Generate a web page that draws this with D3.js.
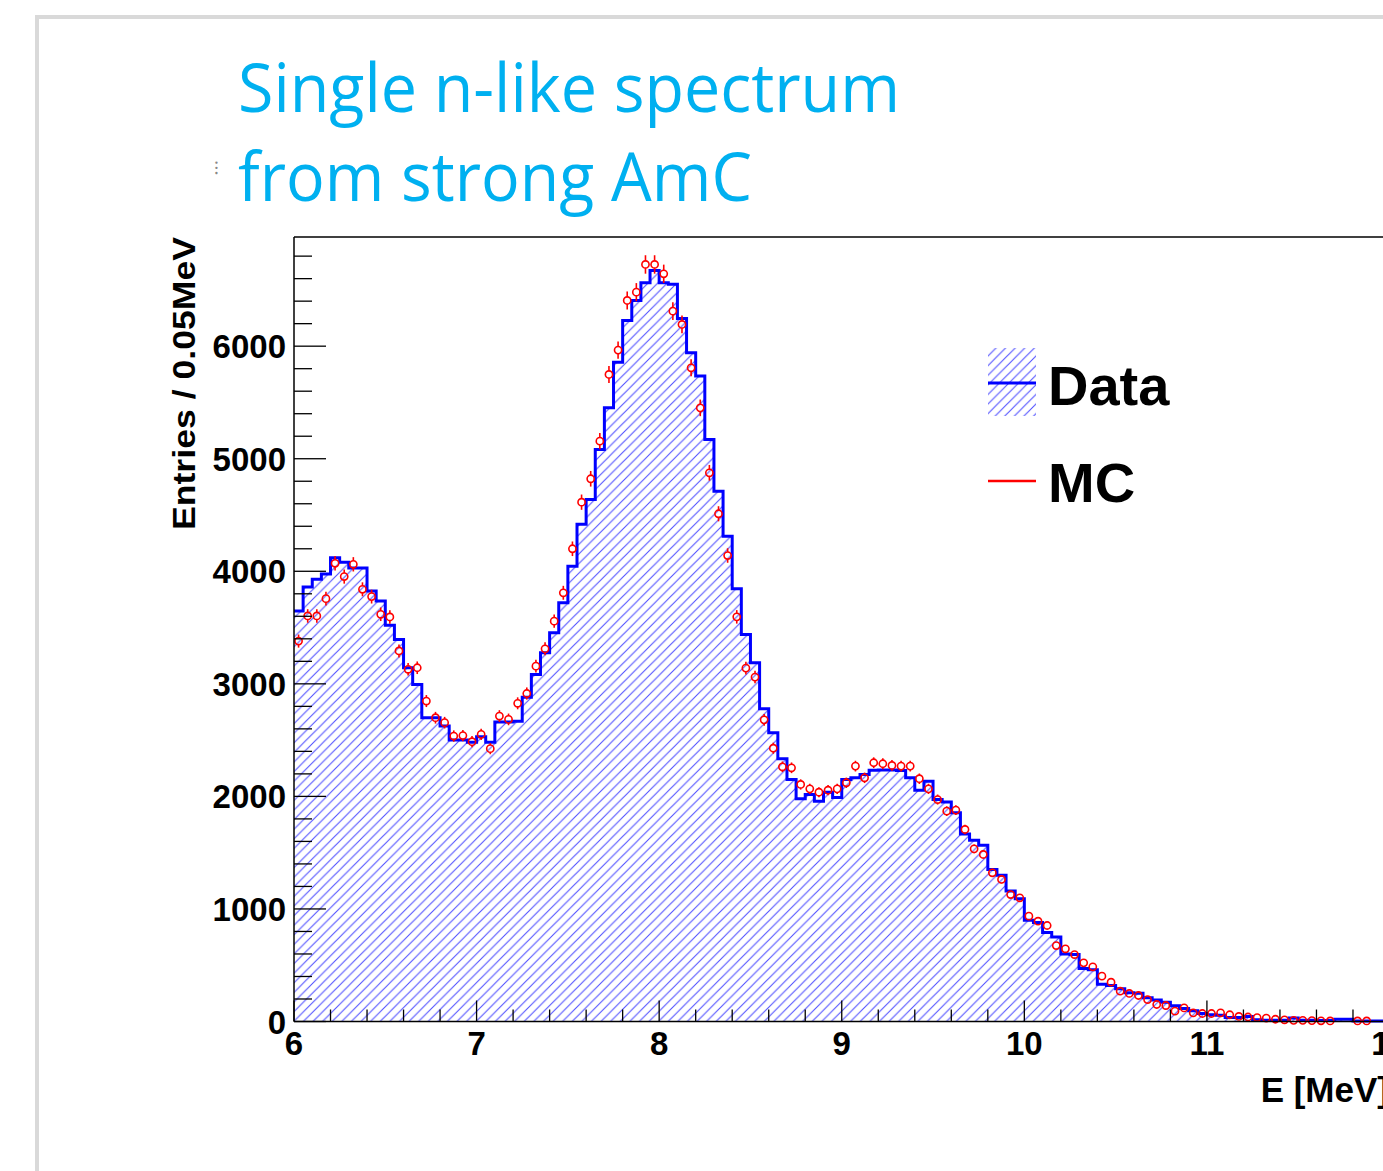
<!DOCTYPE html>
<html>
<head>
<meta charset="utf-8">
<script src="https://cdn.jsdelivr.net/npm/d3@7"></script>
<style>
  html, body { margin: 0; padding: 0; background: #fff; overflow: hidden; }
  svg { display: block; }
</style>
</head>
<body>
<svg id="chart" width="1383" height="1171"></svg>
<script>
// ---------------- data ----------------
const titleLines = ["Single n-like spectrum", "from strong AmC"];
const xTitle = "E [MeV]";
const yTitle = "Entries / 0.05MeV";
const legendLabels = ["Data", "MC"];
const binStart = 6.0;
const binWidth = 0.05;
const xTickValues = [6, 7, 8, 9, 10, 11, 12];
const yTickValues = [0, 1000, 2000, 3000, 4000, 5000, 6000];

// Data histogram (entries per 0.05 MeV bin, from 6.00 MeV)
const dataCounts = [
  3647, 3860, 3930, 3975, 4120, 4080, 4030, 4030, 3825, 3736,
  3520, 3395, 3143, 2995, 2699, 2699, 2625, 2500, 2500, 2480,
  2530, 2480, 2660, 2660, 2668, 2880, 3083, 3276, 3453, 3720,
  4045, 4417, 4638, 5082, 5452, 5858, 6228, 6406, 6563, 6673,
  6563, 6550, 6246, 5941, 5734, 5171, 4712, 4312, 3844, 3438,
  3187, 2778, 2565, 2334, 2150, 1979, 2017, 1957, 2037, 1990,
  2150, 2165, 2195, 2233, 2235, 2235, 2230, 2165, 2055, 2135,
  1972, 1950, 1854, 1665, 1611, 1565, 1350, 1300, 1160, 1090,
  900, 880, 790, 750, 600, 595, 470, 460, 330, 320,
  290, 255, 250, 210, 190, 170, 140, 115, 95, 70,
  60, 55, 35, 35, 45, 15, 12, 12, 12, 30,
  10, 10, 8, 8, 20, 20, 5, 5, 5, 5
];

// MC points (same binning)
const mcCounts = [
  3380, 3603, 3603, 3757, 4071, 3953, 4062, 3840, 3775, 3618,
  3594, 3292, 3129, 3143, 2847, 2699, 2655, 2536, 2540, 2486,
  2551, 2424, 2714, 2684, 2827, 2914, 3157, 3311, 3557, 3809,
  4200, 4614, 4822, 5156, 5749, 5965, 6406, 6480, 6726, 6726,
  6643, 6311, 6193, 5808, 5452, 4875, 4511, 4140, 3595, 3140,
  3060, 2680, 2428, 2263, 2254, 2106, 2067, 2037, 2055, 2067,
  2121, 2269, 2165, 2299, 2290, 2275, 2269, 2269, 2157, 2067,
  1972, 1869, 1878, 1706, 1534, 1484, 1321, 1262, 1128, 1099,
  936, 891, 853, 675, 646, 595, 521, 486, 403, 349,
  269, 249, 231, 195, 151, 142, 92, 121, 77, 71,
  71, 77, 60, 45, 40, 35, 30, 20, 15, 10,
  10, 8, 6, 5, 0, 0, 5, 5, 0, 0
];

// ---------------- drawing ----------------
const svg = d3.select("#chart");
const W = 1383, H = 1171;

svg.append("rect").attr("width", W).attr("height", H).attr("fill", "#fff");

// slide frame
svg.append("path")
  .attr("d", `M37,${H} L37,17 L${W + 5},17`)
  .attr("fill", "none").attr("stroke", "#d9d9d9").attr("stroke-width", 4);

// title
const titleG = svg.append("g");
titleLines.forEach((t, i) => {
  titleG.append("text")
    .attr("x", 238).attr("y", i === 0 ? 112 : 201)
    .attr("font-family", "'Open Sans', 'Noto Sans', sans-serif")
    .attr("font-size", 68)
    .attr("fill", "#00b0f0")
    .attr("textLength", i === 0 ? 662 : 514)
    .attr("lengthAdjust", "spacingAndGlyphs")
    .text(t);
});
svg.append("text").attr("x", 214).attr("y", 174)
  .attr("font-family", "Liberation Sans, Arial, sans-serif")
  .attr("font-size", 18).attr("fill", "#888").text("⁝");

// scales
const x = d3.scaleLinear().domain([6, 12]).range([294, 1389.5]);
const y = d3.scaleLinear().domain([0, 6970]).range([1021.5, 237]);

const defs = svg.append("defs");
const P = 9.6;
const pat = defs.append("pattern")
  .attr("id", "hatch").attr("patternUnits", "userSpaceOnUse")
  .attr("width", P).attr("height", P);
pat.append("path")
  .attr("d", `M-2,${P + 2} L${P + 2},-2 M-2,2 L2,-2 M${P - 2},${P + 2} L${P + 2},${P - 2}`)
  .attr("stroke", "#5050ff").attr("stroke-width", 1.1);

const clip = defs.append("clipPath").attr("id", "plotclip");
clip.append("rect").attr("x", 292).attr("y", 230).attr("width", 1200).attr("height", 800);

const plot = svg.append("g").attr("clip-path", "url(#plotclip)");

// histogram fill + outline
const edges = dataCounts.map((d, i) => binStart + i * binWidth);
let fillD = `M${x(edges[0])},${y(0)}`;
let lineD = "";
dataCounts.forEach((v, i) => {
  const x0 = x(edges[i]), x1 = x(edges[i] + binWidth), yy = y(v);
  if (i === 0) lineD += `M${x0},${yy}`;
  else lineD += `L${x0},${yy}`;
  lineD += `L${x1},${yy}`;
  fillD += `L${x0},${yy}L${x1},${yy}`;
});
fillD += `L${x(edges[edges.length - 1] + binWidth)},${y(0)}Z`;

plot.append("path").attr("d", fillD).attr("fill", "url(#hatch)").attr("stroke", "none");
plot.append("path").attr("d", lineD).attr("fill", "none")
  .attr("stroke", "#0000ff").attr("stroke-width", 3);

// MC points with error bars
const mcG = plot.append("g");
mcCounts.forEach((v, i) => {
  if (v <= 0) return;
  const cx = x(edges[i] + binWidth / 2), cy = y(v);
  const r = 3.6;
  const err = Math.sqrt(v);
  const top = y(v + err), bot = y(v - err);
  if (cy - top > r) mcG.append("line").attr("x1", cx).attr("x2", cx)
    .attr("y1", top).attr("y2", cy - r).attr("stroke", "#ff0000").attr("stroke-width", 1.6);
  if (bot - cy > r) mcG.append("line").attr("x1", cx).attr("x2", cx)
    .attr("y1", cy + r).attr("y2", bot).attr("stroke", "#ff0000").attr("stroke-width", 1.6);
  mcG.append("circle").attr("cx", cx).attr("cy", cy).attr("r", r)
    .attr("fill", "none").attr("stroke", "#ff0000").attr("stroke-width", 1.6);
});

// axes frame
const axG = svg.append("g").attr("stroke", "#000").attr("stroke-width", 1.5);
axG.append("line").attr("x1", 294).attr("x2", W + 5).attr("y1", 237).attr("y2", 237);
axG.append("line").attr("x1", 294).attr("x2", 294).attr("y1", 237).attr("y2", 1021.5);
axG.append("line").attr("x1", 294).attr("x2", W + 5).attr("y1", 1021.5).attr("y2", 1021.5);

// y ticks
const yMinor = d3.range(0, 6970, 200);
yMinor.forEach(v => {
  const major = v % 1000 === 0;
  axG.append("line").attr("x1", 294).attr("x2", 294 + (major ? 32 : 18))
    .attr("y1", y(v)).attr("y2", y(v)).attr("stroke-width", 1.3);
});
// x ticks
const xMinor = d3.range(6, 12.01, 0.2);
xMinor.forEach(v => {
  const major = Math.abs(v - Math.round(v)) < 1e-6;
  axG.append("line").attr("x1", x(v)).attr("x2", x(v))
    .attr("y1", 1021.5).attr("y2", 1021.5 - (major ? 21 : 12)).attr("stroke-width", 1.3);
});

const labelFont = "'Liberation Sans', Arial, Helvetica, sans-serif";
svg.append("g").selectAll("text").data(yTickValues).join("text")
  .attr("x", 286).attr("y", d => y(d) + 12)
  .attr("text-anchor", "end")
  .attr("font-family", labelFont).attr("font-weight", "bold").attr("font-size", 33)
  .attr("fill", "#000").text(d => d);

svg.append("g").selectAll("text").data(xTickValues).join("text")
  .attr("x", d => x(d)).attr("y", 1055)
  .attr("text-anchor", "middle")
  .attr("font-family", labelFont).attr("font-weight", "bold").attr("font-size", 33)
  .attr("fill", "#000").text(d => d);

// axis titles
svg.append("text")
  .attr("x", 1389).attr("y", 1102)
  .attr("text-anchor", "end")
  .attr("font-family", labelFont).attr("font-weight", "bold").attr("font-size", 35)
  .attr("fill", "#000").text(xTitle);

svg.append("text")
  .attr("transform", "translate(195,530) rotate(-90)")
  .attr("font-family", labelFont).attr("font-weight", "bold").attr("font-size", 31)
  .attr("textLength", 293).attr("lengthAdjust", "spacingAndGlyphs")
  .attr("fill", "#000").text(yTitle);

// legend
const lg = svg.append("g");
lg.append("rect").attr("x", 988).attr("y", 348).attr("width", 48).attr("height", 68)
  .attr("fill", "url(#hatch)");
lg.append("line").attr("x1", 988).attr("x2", 1036).attr("y1", 383).attr("y2", 383)
  .attr("stroke", "#0000ff").attr("stroke-width", 3);
lg.append("line").attr("x1", 988).attr("x2", 1036).attr("y1", 481).attr("y2", 481)
  .attr("stroke", "#ff0000").attr("stroke-width", 2.5);
lg.selectAll("text.lab").data(legendLabels).join("text")
  .attr("class", "lab")
  .attr("x", 1048).attr("y", (d, i) => i === 0 ? 405 : 502)
  .attr("font-family", labelFont).attr("font-weight", "bold").attr("font-size", 56)
  .attr("fill", "#000").text(d => d);
</script>
</body>
</html>
